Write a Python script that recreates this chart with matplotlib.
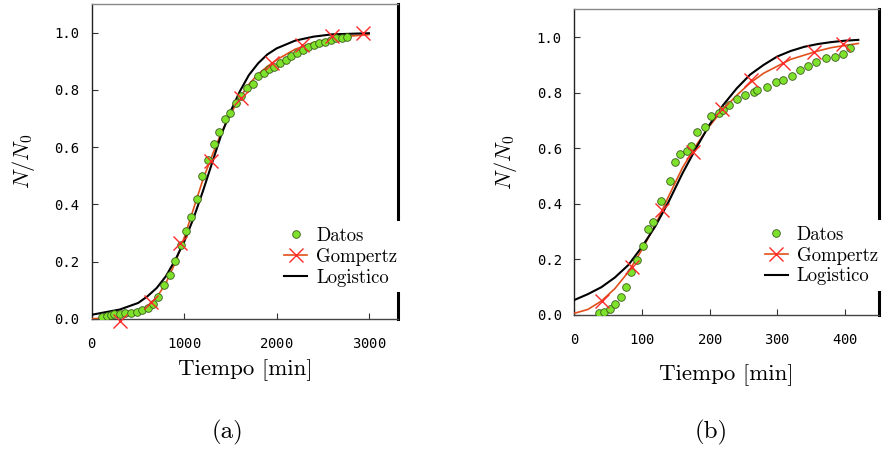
import numpy as np
import matplotlib
matplotlib.use("Agg")
import matplotlib.pyplot as plt
from matplotlib.ticker import FormatStrFormatter

plt.rcParams['mathtext.fontset'] = 'cm'
plt.rcParams['font.family'] = ['cmr10', 'DejaVu Serif']
plt.rcParams['axes.formatter.use_mathtext'] = True

# ---- panel (a) ----
t_a = [112, 159, 202, 242, 303, 357, 422, 484, 542, 603, 664, 715, 780, 841, 895,
       960, 1022, 1076, 1141, 1195, 1256, 1321, 1375, 1440, 1495, 1556, 1617, 1679,
       1740, 1801, 1863, 1921, 1975, 2036, 2097, 2159, 2220, 2282, 2343, 2401, 2462,
       2523, 2585, 2643, 2704, 2765]
n_a = [0.007, 0.009, 0.014, 0.016, 0.019, 0.020, 0.021, 0.023, 0.033, 0.038, 0.053,
       0.077, 0.119, 0.155, 0.201, 0.259, 0.309, 0.356, 0.419, 0.500, 0.556, 0.612,
       0.653, 0.698, 0.721, 0.756, 0.777, 0.806, 0.821, 0.848, 0.860, 0.872, 0.881,
       0.895, 0.905, 0.919, 0.930, 0.940, 0.949, 0.956, 0.963, 0.969, 0.976, 0.980,
       0.983, 0.984]
gm_t_a = [303, 635, 953, 1285, 1610, 1946, 2271, 2603, 2931]
gm_n_a = [-0.008, 0.058, 0.265, 0.552, 0.773, 0.893, 0.957, 0.988, 0.998]
gc_t_a = [0, 200, 400, 500, 600, 700, 800, 900, 1000, 1100, 1200, 1300, 1400, 1500,
          1600, 1700, 1800, 1900, 2000, 2200, 2400, 2600, 2800, 3000]
gc_n_a = [0.001, 0.004, 0.014, 0.026, 0.045, 0.075, 0.125, 0.195, 0.285, 0.385, 0.485,
          0.57, 0.65, 0.715, 0.772, 0.82, 0.855, 0.882, 0.905, 0.942, 0.965, 0.98,
          0.988, 0.993]
lc_t_a = [0, 300, 500, 600, 700, 800, 900, 1000, 1100, 1200, 1300, 1400, 1500, 1600,
          1700, 1800, 1900, 2000, 2200, 2400, 2600, 3000]
lc_n_a = [0.015, 0.033, 0.056, 0.079, 0.108, 0.149, 0.205, 0.271, 0.352, 0.445, 0.544,
          0.643, 0.724, 0.794, 0.852, 0.893, 0.924, 0.945, 0.972, 0.986, 0.994, 0.998]

# ---- panel (b) ----
t_b = [37, 44, 53, 60, 69, 76, 84, 93, 101, 109, 117, 128, 141, 149, 157, 166, 172,
       181, 193, 202, 214, 220, 229, 241, 253, 265, 270, 285, 298, 309, 322, 334, 345,
       358, 372, 385, 397, 408]
n_b = [0.008, 0.011, 0.020, 0.040, 0.066, 0.102, 0.153, 0.198, 0.249, 0.309, 0.333,
       0.411, 0.482, 0.552, 0.581, 0.589, 0.607, 0.659, 0.678, 0.716, 0.727, 0.739,
       0.754, 0.778, 0.793, 0.804, 0.811, 0.821, 0.838, 0.847, 0.859, 0.883, 0.895,
       0.911, 0.923, 0.929, 0.938, 0.960]
gm_t_b = [41, 85, 129, 175, 218, 262, 308, 354, 398]
gm_n_b = [0.052, 0.172, 0.379, 0.585, 0.742, 0.844, 0.907, 0.947, 0.974]
gc_t_b = [0, 20, 40, 60, 80, 100, 120, 140, 160, 180, 200, 220, 240, 260, 280, 300,
          320, 340, 360, 380, 400, 420]
gc_n_b = [0.006, 0.02, 0.05, 0.095, 0.155, 0.235, 0.325, 0.43, 0.53, 0.61, 0.68, 0.74,
          0.79, 0.835, 0.87, 0.895, 0.92, 0.935, 0.95, 0.962, 0.97, 0.977]
lc_t_b = gc_t_b
lc_n_b = [0.054, 0.075, 0.10, 0.135, 0.18, 0.245, 0.32, 0.41, 0.51, 0.60, 0.685, 0.755,
          0.815, 0.865, 0.90, 0.93, 0.95, 0.965, 0.975, 0.982, 0.987, 0.99]

xticks_a = [0, 1000, 2000, 3000]
xticks_b = [0, 100, 200, 300, 400]
yticks = [0.0, 0.2, 0.4, 0.6, 0.8, 1.0]


def panel(ax, t, n, gmt, gmn, gct, gcn, lct, lcn, xmax, xticks, leg_anchor):
    ax.plot(gct, gcn, color='#e0501a', lw=1.2, zorder=3)
    ax.plot(lct, lcn, color='black', lw=1.5, zorder=3)
    ax.plot(t, n, 'o', ms=5.5, mfc='#7ee22c', mec='#3a5a1a', mew=0.6, zorder=4)
    ax.plot(gmt, gmn, 'x', ms=10, color='#ff2a2a', mew=1.0, zorder=5, clip_on=False)
    # legend proxies
    h_d, = ax.plot([], [], 'o', ms=5.5, mfc='#7ee22c', mec='#3a5a1a', mew=0.6)
    h_g, = ax.plot([], [], color='#e0501a', lw=1.2, marker='x', ms=10, mec='#ff2a2a',
                   mew=1.0)
    h_l, = ax.plot([], [], color='black', lw=1.5)
    leg = ax.legend([h_d, h_g, h_l], ['Datos', 'Gompertz', 'Logistico'],
                    loc='upper left', bbox_to_anchor=leg_anchor, frameon=True,
                    fontsize=13.5, handlelength=1.2, handletextpad=0.5,
                    labelspacing=0.15, borderpad=0.3, borderaxespad=0)
    leg.get_frame().set_facecolor('white')
    leg.get_frame().set_edgecolor('none')
    leg.get_frame().set_alpha(1)
    leg.set_zorder(10)

    ax.set_xlim(0, xmax)
    ax.set_ylim(0, 1.1)
    ax.set_xticks(xticks)
    ax.set_yticks(yticks)
    ax.yaxis.set_major_formatter(FormatStrFormatter('%.1f'))
    ax.tick_params(direction='in', length=4, width=0.8, color='#333333',
                   top=False, right=False)
    ax.tick_params(axis='y', pad=9)
    ax.tick_params(axis='x', pad=13)
    for lab in ax.get_xticklabels() + ax.get_yticklabels():
        lab.set_fontfamily('DejaVu Sans Mono')
        lab.set_fontsize(10)
    ax.spines['top'].set_color('#888888')
    ax.spines['top'].set_linewidth(1.0)
    ax.spines['left'].set_color('#222222')
    ax.spines['left'].set_linewidth(1.0)
    ax.spines['bottom'].set_color('#444444')
    ax.spines['bottom'].set_linewidth(1.0)
    ax.spines['right'].set_color('black')
    ax.spines['right'].set_linewidth(2.2)
    ax.set_xlabel('Tiempo [min]', fontsize=16.5, va='center')
    ax.set_ylabel(r'$N/N_0$', fontsize=16, va='center')


fig = plt.figure(figsize=(8.83, 4.49), dpi=100)
ax1 = fig.add_axes([92 / 883, 1 - 319 / 449, 306 / 883, 315 / 449])
ax2 = fig.add_axes([574.3 / 883, 1 - 315 / 449, 305 / 883, 305.7 / 449])

panel(ax1, t_a, n_a, gm_t_a, gm_n_a, gc_t_a, gc_n_a, lc_t_a, lc_n_a, 3315, xticks_a,
      (0.61, 0.31))
panel(ax2, t_b, n_b, gm_t_b, gm_n_b, gc_t_b, gc_n_b, lc_t_b, lc_n_b, 451, xticks_b,
      (0.607, 0.31))

ax1.xaxis.set_label_coords(0.5, -0.162)
ax1.yaxis.set_label_coords(-0.225, 0.5)
ax2.xaxis.set_label_coords(0.5, -0.196)
ax2.yaxis.set_label_coords(-0.226, 0.5)

fig.text(228 / 883, 1 - 432 / 449, '(a)', fontsize=18, ha='center', va='center')
fig.text(711 / 883, 1 - 432 / 449, '(b)', fontsize=18, ha='center', va='center')

fig.savefig('out.png', dpi=100)
